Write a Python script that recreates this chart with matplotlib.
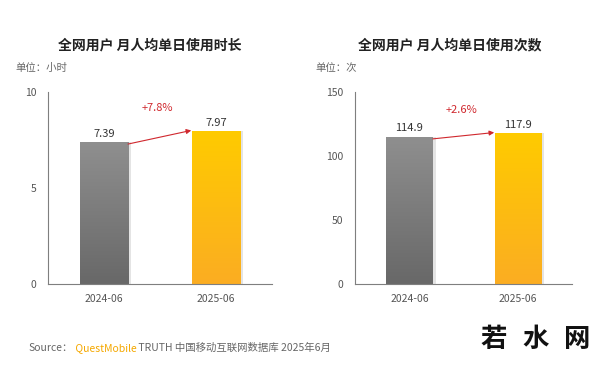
import matplotlib.pyplot as plt
import numpy as np
from matplotlib.colors import LinearSegmentedColormap

plt.rcParams['font.family'] = ['Noto Sans CJK SC', 'DejaVu Sans']

periods = ["2024-06", "2025-06"]
hours = [7.39, 7.97]
times = [114.9, 117.9]
hours_labels = ["7.39", "7.97"]
times_labels = ["114.9", "117.9"]
hours_growth = "+7.8%"
times_growth = "+2.6%"

gray_cmap = LinearSegmentedColormap.from_list("g", ["#686868", "#8f8f8f"])
gold_cmap = LinearSegmentedColormap.from_list("y", ["#fbad22", "#ffcb00"])


def draw_panel(ax, values, ymax, yticks, labels, growth):
    bars = ax.bar([0, 1], values, width=0.43, color="none", zorder=2)
    grad = np.linspace(0, 1, 256).reshape(-1, 1)
    for b, cm in zip(bars, [gray_cmap, gold_cmap]):
        x0, w, h = b.get_x(), b.get_width(), b.get_height()
        # soft shadow on the right side
        ax.bar(x0 + w, h, width=0.025, bottom=0, align="edge",
               color="#e4e4e4", zorder=1)
        im = ax.imshow(grad, cmap=cm, origin="lower", aspect="auto",
                       extent=[x0, x0 + w, 0, h], zorder=2)
        im.set_clip_path(b)
    ax.set_xlim(-0.5, 1.5)
    ax.set_ylim(0, ymax)
    for i, v in enumerate(values):
        ax.text(i, v + ymax * 0.018, labels[i], ha="center", va="bottom",
                fontsize=8, color="#333333")
    ax.annotate("", xy=(0.78, values[1] + ymax * 0.003),
                xytext=(0.215, values[0] - ymax * 0.01),
                arrowprops=dict(arrowstyle="-|>", color="#d0282e", lw=0.8,
                                mutation_scale=7, shrinkA=0, shrinkB=0))
    ax.text(0.48, values[1] + ymax * 0.095, growth, ha="center", va="bottom",
            fontsize=8, color="#d0282e")
    ax.set_yticks(yticks)
    ax.set_xticks([0, 1])
    ax.set_xticklabels(periods)
    ax.tick_params(length=0, labelsize=7.5, colors="#555555")
    ax.tick_params(axis="y", pad=8.5)
    ax.tick_params(axis="x", pad=7)
    for s in ["top", "right"]:
        ax.spines[s].set_visible(False)
    for s in ["left", "bottom"]:
        ax.spines[s].set_color("#7f7f7f")
        ax.spines[s].set_linewidth(0.8)


fig = plt.figure(figsize=(6, 3.68), dpi=100)
fig.patch.set_facecolor("white")

ax1 = fig.add_axes([0.08, 0.228, 0.373, 0.522])
ax2 = fig.add_axes([0.592, 0.228, 0.362, 0.522])

draw_panel(ax1, hours, 10, [0, 5, 10], hours_labels, hours_growth)
draw_panel(ax2, times, 150, [0, 50, 100, 150], times_labels, times_growth)

fig.text(0.25, 0.877, "全网用户 月人均单日使用时长", ha="center", va="center",
         fontsize=10, fontweight="bold", color="#222222")
fig.text(0.75, 0.877, "全网用户 月人均单日使用次数", ha="center", va="center",
         fontsize=10, fontweight="bold", color="#222222")
fig.text(0.025, 0.815, "单位：小时", ha="left", va="center", fontsize=7.5, color="#666666")
fig.text(0.525, 0.815, "单位：次", ha="left", va="center", fontsize=7.5, color="#666666")

t1 = fig.text(0.047, 0.04, "Source：", fontsize=7.5, color="#666666", va="bottom")
t2 = fig.add_artist(plt.Annotation(" QuestMobile", xy=(1, 0), xycoords=t1, va="bottom",
                                   fontsize=7.5, color="#f5a800", annotation_clip=False))
fig.add_artist(plt.Annotation(" TRUTH 中国移动互联网数据库 2025年6月", xy=(1, 0), xycoords=t2,
                              va="bottom", fontsize=7.5, color="#666666",
                              annotation_clip=False))

# site watermark, bottom right
for cx, ch in zip([0.822, 0.892, 0.962], ["若", "水", "网"]):
    fig.text(cx, 0.078, ch, ha="center", va="center", fontsize=19,
             fontweight="bold", color="#111111")

fig.savefig("out.png", dpi=100)
